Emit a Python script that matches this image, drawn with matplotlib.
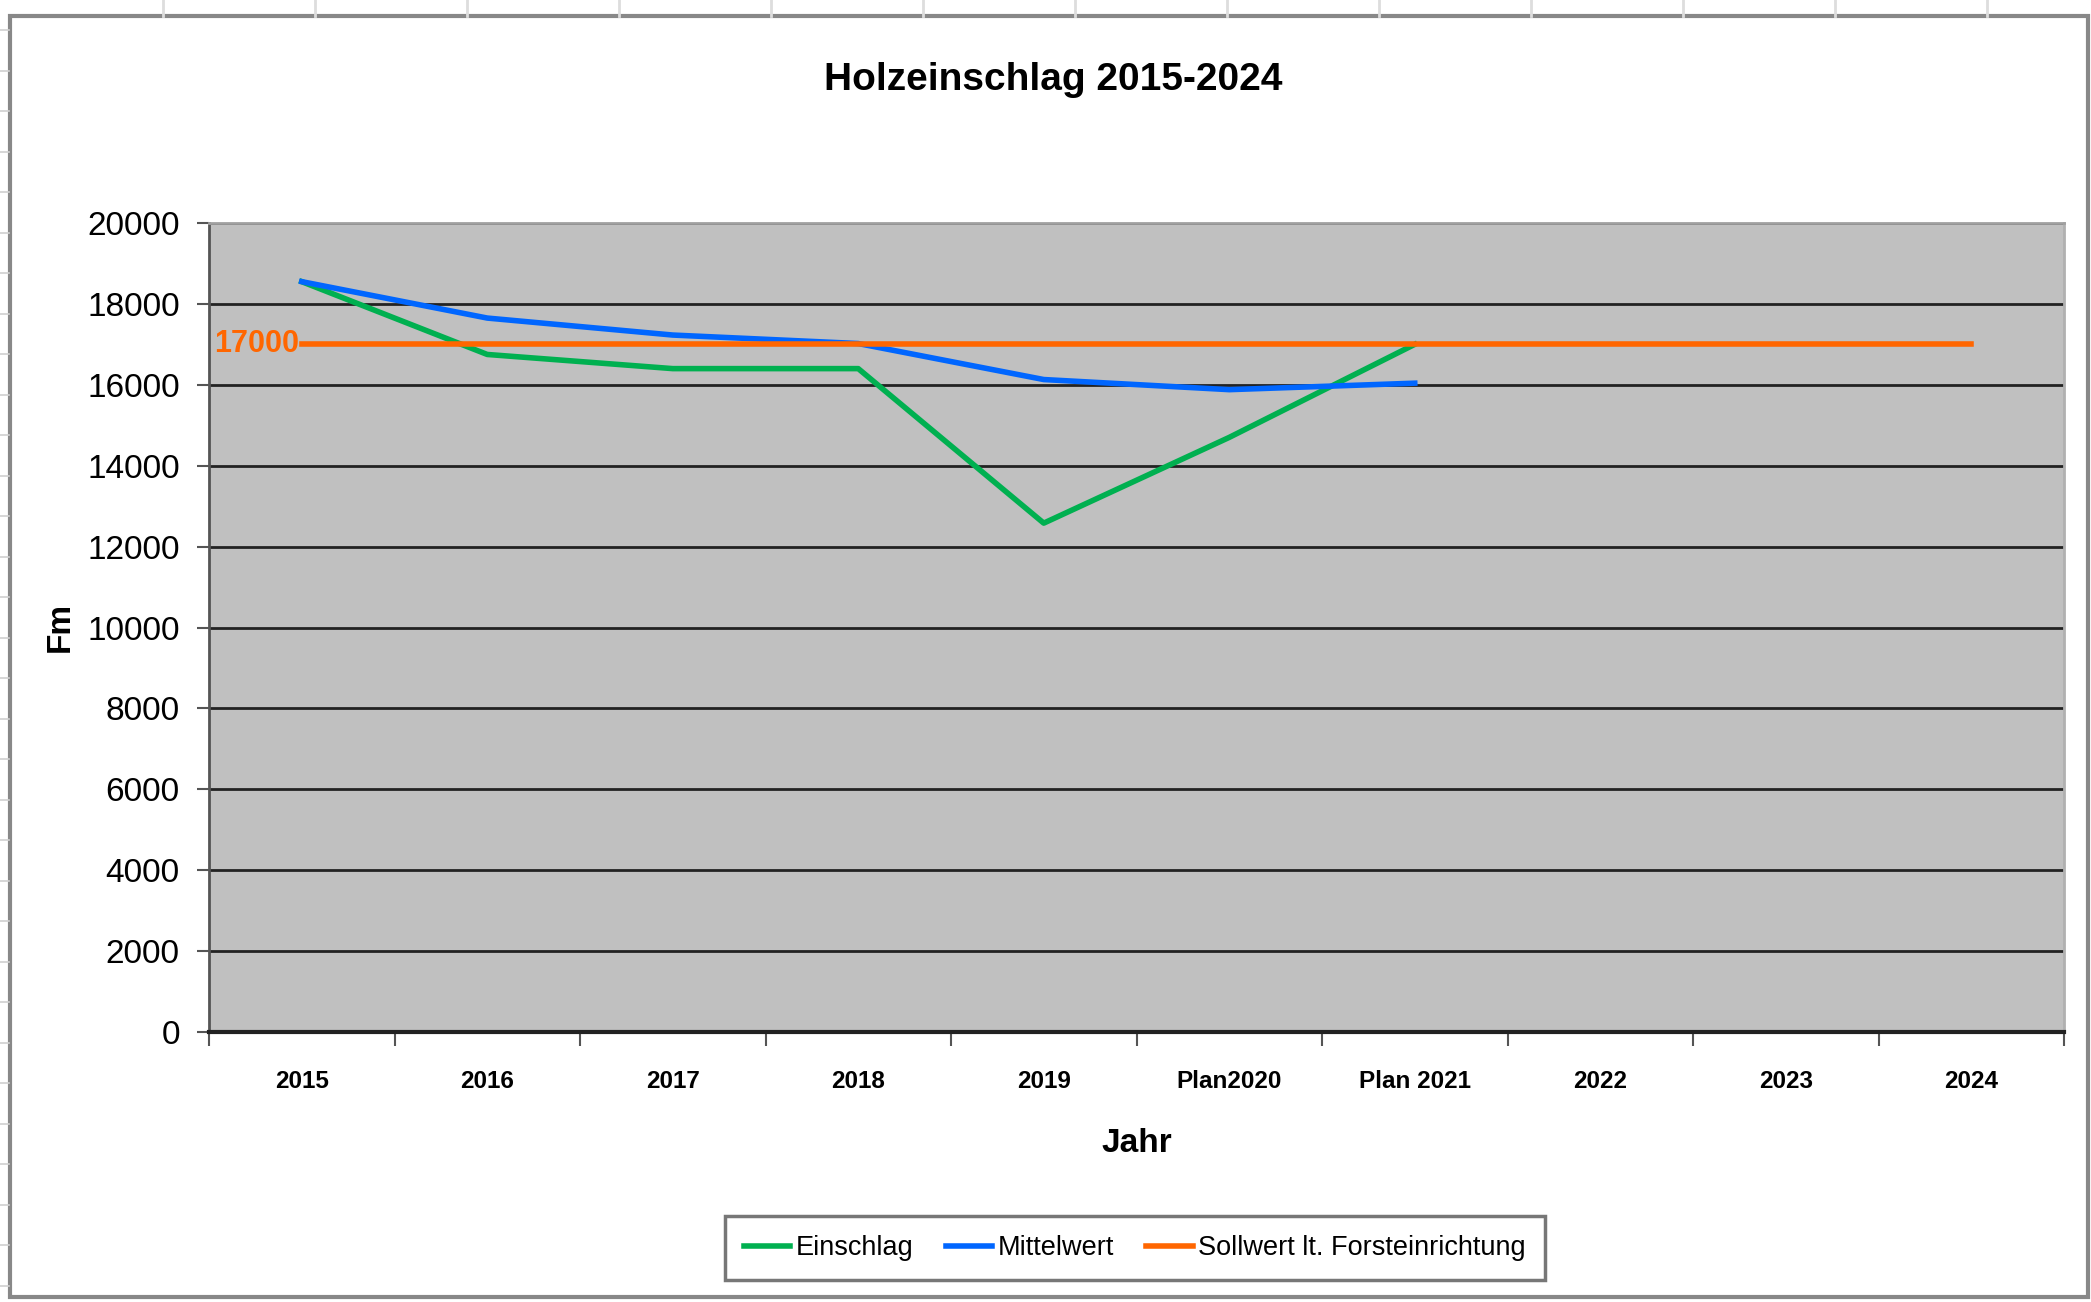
import numpy as np
import matplotlib
matplotlib.use("Agg")
import matplotlib.pyplot as plt
from matplotlib import font_manager
from matplotlib.lines import Line2D
from matplotlib.patches import Rectangle

# ----------------------
# Data
# ----------------------
jahre = ["2015", "2016", "2017", "2018", "2019", "Plan2020", "Plan 2021", "2022", "2023", "2024"]
einschlag = [18550, 16750, 16400, 16400, 12580, 14700, 17000]
mittelwert = [18550, 17650, 17230, 17020, 16130, 15880, 16040]
sollwert = [17000] * 10

# ----------------------
# Fonts (narrow like Arial Narrow if available)
# ----------------------
names = {f.name for f in font_manager.fontManager.ttflist}
narrow = "Liberation Sans Narrow" if "Liberation Sans Narrow" in names else "Liberation Sans"
plt.rcParams["font.family"] = [narrow, "DejaVu Sans"]

W, H = 2091, 1302
fig = plt.figure(figsize=(W / 100, H / 100), dpi=100)
fig.patch.set_facecolor("white")

# spreadsheet background bits around the chart
for xs in [163, 315, 467, 619, 771, 923, 1075, 1227, 1379, 1531, 1683, 1835, 1987]:
    fig.add_artist(Line2D([xs / W, xs / W], [1, 1 - 16 / H], color="#dddddd", lw=2))
for ys in np.arange(30, H, 40.5):
    fig.add_artist(Line2D([0, 9 / W], [1 - ys / H, 1 - ys / H], color="#d0d0d0", lw=1.2))

# chart border
fig.add_artist(Rectangle((10 / W, 1 - 1297 / H), (2088 - 10) / W, (1297 - 16) / H,
                         transform=fig.transFigure, fill=False, edgecolor="#888888", lw=3))

# ----------------------
# Plot
# ----------------------
ax = fig.add_axes([209 / W, 1 - 1032 / H, (2064 - 209) / W, (1032 - 223) / H])
ax.set_facecolor("#c0c0c0")

x = np.arange(len(jahre))
ax.plot(x[:len(einschlag)], einschlag, color="#00b050", lw=4, label="Einschlag", zorder=3)
ax.plot(x[:len(mittelwert)], mittelwert, color="#0066ff", lw=4, label="Mittelwert", zorder=3)
ax.plot(x, sollwert, color="#ff6600", lw=4, label="Sollwert lt. Forsteinrichtung", zorder=4)
ax.annotate(str(sollwert[0]), (x[0], sollwert[0]), xytext=(-2, 0), textcoords="offset points",
            ha="right", va="center", color="#ff6600", fontsize=22, fontweight="bold", zorder=5)

ax.set_xlim(-0.5, len(jahre) - 0.5)
ax.set_ylim(0, 20000)
ax.set_yticks(np.arange(0, 20001, 2000))
ax.yaxis.grid(True, color="#222222", lw=2)
ax.set_axisbelow(True)

ax.set_xticks(x)
ax.set_xticklabels(jahre, fontsize=17.5, fontweight="bold")
ax.set_xticks(np.arange(-0.5, len(jahre)), minor=True)
ax.tick_params(axis="x", which="major", length=0, pad=27)
ax.tick_params(axis="x", which="minor", length=10, width=1.5, color="#555555", direction="out")
ax.tick_params(axis="y", length=9, width=1.5, color="#555555", direction="out", labelsize=24, pad=12)

ax.spines["left"].set_color("#555555")
ax.spines["left"].set_linewidth(2)
ax.spines["bottom"].set_color("#222222")
ax.spines["bottom"].set_linewidth(3)
ax.spines["top"].set_color("#a0a0a0")
ax.spines["top"].set_linewidth(2)
ax.spines["right"].set_color("#b0b0b0")
ax.spines["right"].set_linewidth(2)

fig.text(1053 / W, 1 - 80 / H, "Holzeinschlag 2015-2024", ha="center", va="center",
         fontsize=28, fontweight="bold")
fig.text(1137 / W, 1 - 1143 / H, "Jahr", ha="center", va="center", fontsize=24, fontweight="bold")
fig.text(60 / W, 1 - 627 / H, "Fm", ha="center", va="center", rotation=90, fontsize=24, fontweight="bold")

leg = fig.legend(loc="center", bbox_to_anchor=(1135 / W, 1 - 1248 / H), ncol=3, fontsize=19.5,
                 frameon=True, fancybox=False, edgecolor="#555555", handlelength=1.7,
                 handletextpad=0.2, columnspacing=1.2, borderpad=0.7)
leg.get_frame().set_linewidth(2.5)

plt.savefig("out.png", dpi=100)
